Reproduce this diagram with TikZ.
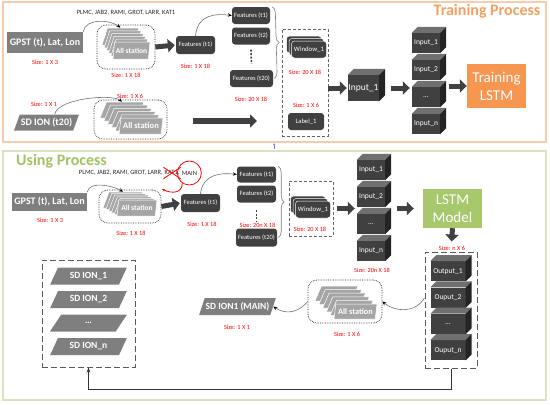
\documentclass[tikz,border=0pt]{standalone}
\usepackage{fontspec}
\setmainfont{Carlito}
\usetikzlibrary{arrows.meta,shapes.geometric,decorations.pathreplacing}
\definecolor{graybox}{RGB}{127,127,127}
\definecolor{stngray}{RGB}{165,165,165}
\definecolor{boxdark}{RGB}{64,64,64}
\definecolor{cubetopc}{RGB}{112,112,112}
\definecolor{cubesidec}{RGB}{36,36,36}
\definecolor{trainline}{RGB}{248,203,173}
\definecolor{traintext}{RGB}{245,160,95}
\definecolor{trainfill}{RGB}{247,150,80}
\definecolor{useline}{RGB}{215,228,189}
\definecolor{usetext}{RGB}{160,195,100}
\definecolor{usefill}{RGB}{168,200,108}
\tikzset{
  inbox/.style={fill=graybox, text=white, inner sep=0pt, font=\bfseries\fontsize{10}{12}\selectfont},
  sdion/.style={trapezium, trapezium left angle=62, trapezium right angle=118, trapezium stretches=true,
    fill=graybox, text=white, inner sep=1pt, font=\bfseries\fontsize{9.5}{11}\selectfont},
  stn/.style={trapezium, trapezium left angle=78, trapezium right angle=102, trapezium stretches=true,
    fill=stngray, draw=white, line width=0.5pt, inner sep=1pt, text=white, font=\bfseries\fontsize{7.5}{9}\selectfont},
  stnbox/.style={draw=black!85, densely dotted, line width=0.7pt, rounded corners=9pt, inner sep=0pt},
  feat/.style={fill=boxdark, rounded corners=3pt, text=white, inner sep=0pt, minimum width=38pt,
    minimum height=17pt, font=\fontsize{6.5}{8}\selectfont},
  win/.style={feat, draw=white, line width=0.5pt, minimum width=35pt, minimum height=17pt, font=\fontsize{6.8}{8}\selectfont},
  cube/.style={fill=boxdark, text=white, inner sep=0pt, minimum width=28pt, minimum height=20pt, font=\fontsize{7.5}{9}\selectfont},
  sz/.style={text=red, inner sep=0pt, font=\fontsize{6.3}{7}\selectfont},
  stlist/.style={text=black!85, inner sep=0pt, font=\fontsize{6.5}{8}\selectfont},
  bigarrow/.style={draw=boxdark, line width=5pt, -{Triangle[length=7pt,width=13pt]}},
  curvearrow/.style={draw=black!55, line width=0.6pt, -{Stealth[length=4pt,width=3.5pt,color=black]}},
  shortdash/.style={draw=black!60, line width=0.8pt, dash pattern=on 3pt off 2pt, inner sep=0pt},
  longdash/.style={draw=black!65, line width=1pt, dash pattern=on 6pt off 3pt, inner sep=0pt},
  featdots/.style={draw=boxdark, line width=1.6pt, dash pattern=on 2pt off 1.5pt},
  title/.style={inner sep=0pt, font=\bfseries\fontsize{16}{18}\selectfont},
  lstm/.style={text=white, inner sep=0pt, align=center, minimum width=59pt, font=\fontsize{15}{18}\selectfont},
}
\begin{document}
\begin{tikzpicture}[x=1pt,y=-1pt]
  \useasboundingbox (0,0) rectangle (550,405);
  \draw[trainline, line width=1.5pt] (3,2) rectangle (546,142);
  \draw[useline, line width=1.5pt] (3,151) rectangle (546,400);
  \node[title, text=traintext] (ttrain) at (487,11) {Training Process};
  \node[title, text=usetext, anchor=west] (tuse) at (16,161) {Using Process};
  \coordinate (blfrom) at (274,149);
  \coordinate (blto) at (274,143);
  \draw[blue!55, line width=0.6pt, -{Stealth[length=2.5pt]}] (blfrom) -- (blto);

  % training
  \node[inbox, minimum width=76pt, minimum height=21pt] (gpst) at (45,42.5) {GPST (t), Lat, Lon};
  \node[sz] (szgpst) at (45,62) {Size: 1 X 3};
  \node[stlist] (list) at (126,13) {PLMC, JAB2, RAMI, GROT, LARR, KAT1};
  \node[stnbox, minimum width=58pt, minimum height=44pt] (boxa) at (126,47) {};
  \foreach \k in {5,4,...,1}
    \node[stn, minimum width=37pt, minimum height=17pt] (sa\k) at (131.5-2.2*\k,50.5-2.8*\k) {};
  \node[stn, minimum width=37pt, minimum height=17pt] (sa) at (131.5,50.5) {All station};
  \node[sz] (szsa) at (126,75) {Size: 1 X 18};
  \draw[curvearrow] (gpst.north east) .. controls +(2,-14) and +(-10,-8) .. (sa5.north);
  \node[feat, minimum width=39pt, minimum height=18pt] (fa) at (195.5,45) {Features (t1)};
  \draw[bigarrow, shorten >=1pt] (boxa.east) -- (fa.west);
  \node[sz] (szfa) at (195.5,66) {Size: 1 X 18};
  \node[feat] (fb1) at (251,15.5) {Features (t1)};
  \node[feat] (fb2) at (251,36) {Features (t2)};
  \node[feat, minimum width=43pt] (fb20) at (251.5,78.5) {Features (t20)};
  \draw[featdots] ([yshift=-5pt]fb2.south) -- ([yshift=6pt]fb20.north);
  \node[sz] (szfb) at (251,99) {Size: 20 X 18};
  \draw[curvearrow] (fa.north) .. controls +(2,-22) and +(-15,-2) .. (fb1.west);
  \draw[black!50, line width=0.6pt, decorate, decoration={brace, amplitude=6pt}]
    ([xshift=2pt]fb1.north east) -- ([xshift=1pt]fb20.east);
  \node[shortdash, minimum width=46pt, minimum height=107pt] (wboxa) at (305,82.5) {};
  \foreach \k in {2,1}
    \node[win] (wa\k) at (309-2.5*\k,49.5-2.5*\k) {};
  \node[win] (wa) at (309,49.5) {Window\_1};
  \node[sz] (szwa) at (305,72) {Size: 20 X 18};
  \node[sz] (szlab) at (306,105) {Size: 1 X 6};
  \node[feat, minimum width=36pt, font=\fontsize{6.6}{8}\selectfont] (lab) at (306,121.5) {Label\_1};
  \node[cube, minimum width=31pt, minimum height=26pt, font=\fontsize{9.5}{11}\selectfont] (tin) at (363.5,88) {Input\_1};
  \draw[bigarrow, shorten >=1pt] (wboxa.east |- tin.west) -- (tin.west);
  \foreach \t [count=\i] in {Input\_1,Input\_2,\ldots,Input\_n}
    \node[cube] (ti\i) at (426,16+27*\i) {\t};
  \draw[bigarrow, shorten >=2pt] ([xshift=12pt]tin.east) -- (ti1.west |- tin.east);
  \node[lstm, fill=trainfill, minimum height=44pt] (tlstm) at (496.5,86) {Training\\LSTM};
  \draw[bigarrow] ([xshift=9pt]ti2.east |- tlstm.west) -- (tlstm.west);
  \node[sdion, minimum width=63pt, minimum height=16pt, font=\bfseries\fontsize{10}{11}\selectfont] (sdt) at (46.5,122.5) {SD ION (t20)};
  \node[sz] (szsdt) at (44,104.5) {Size: 1 X 1};
  \node[stnbox, minimum width=73pt, minimum height=39pt] (boxb) at (130.5,119.5) {};
  \foreach \k in {5,4,...,1}
    \node[stn, minimum width=44pt, minimum height=16pt] (sb\k) at (141-3.8*\k,126-3.2*\k) {};
  \node[stn, minimum width=44pt, minimum height=16pt, font=\bfseries\fontsize{8.5}{9}\selectfont] (sb) at (141,126) {All station};
  \node[sz] (szsb) at (130,96) {Size: 1 X 6};
  \draw[curvearrow] (sdt.north east) .. controls +(3,-16) and +(-10,-8) .. (sb5.north);
  \coordinate (ga) at (193,121);
  \coordinate (gb) at (257,121);
  \draw[bigarrow, line width=6pt] (ga) -- (gb);

  % using
  \node[stlist, anchor=east] (lst2) at (163,173) {PLMC, JAB2, RAMI, GROT, LARR,};
  \node[stlist, anchor=west] (kat) at ([xshift=1.5pt]lst2.east) {KAT1,};
  \node[stlist, anchor=west] (mn) at ([xshift=2pt]kat.east) {MAIN};
  \node[draw=red, circle, line width=0.8pt, minimum size=24pt] (ring) at (mn) {};
  \draw[red, line width=0.8pt] ([xshift=-1pt,yshift=3pt]kat.north west) -- ([xshift=1pt,yshift=-3pt]kat.south east)
    ([xshift=-1pt,yshift=-3pt]kat.south west) -- ([xshift=1pt,yshift=3pt]kat.north east);
  \coordinate (rtip) at (162,189);
  \draw[red, line width=0.8pt, -{Stealth[length=3pt]}] (ring.235) .. controls +(0,10) and +(10,5) .. (rtip);
  \node[inbox, minimum width=75pt, minimum height=18pt] (gpst2) at (49.5,201.5) {GPST (t), Lat, Lon};
  \node[sz] (szgpst2) at (50,220) {Size: 1 X 3};
  \node[stnbox, minimum width=62pt, minimum height=33pt] (boxc) at (130,206.5) {};
  \foreach \k in {5,4,...,1}
    \node[stn, minimum width=40pt, minimum height=16pt] (sc\k) at (137-2.8*\k,208-1.6*\k) {};
  \node[stn, minimum width=40pt, minimum height=16pt] (sc) at (137,208) {All station};
  \node[sz] (szsc) at (131,233) {Size: 1 X 18};
  \draw[curvearrow] (gpst2.north east) .. controls +(2,-12) and +(-10,-6) .. (sc5.north);
  \node[feat, minimum width=39pt, minimum height=18pt] (fc) at (200.5,203) {Features (t1)};
  \draw[bigarrow, shorten >=1pt] (boxc.east) -- (fc.west);
  \node[sz] (szfc) at (202,224) {Size: 1 X 18};
  \node[feat, minimum width=39pt, minimum height=16pt] (fd1) at (256.5,174.5) {Features (t1)};
  \node[feat, minimum width=39pt] (fd2) at (256.5,194) {Features (t2)};
  \node[feat, minimum width=41pt, minimum height=18pt] (fd20) at (256.5,237.5) {Features (t20)};
  \draw[featdots] ([yshift=-7.5pt]fd2.south) -- ([yshift=7pt]fd20.north);
  \node[sz] (szfd) at (257.5,225) {Size: 20n X 18};
  \draw[curvearrow] (fc.north) .. controls +(2,-20) and +(-15,-2) .. (fd1.west);
  \draw[black!50, line width=0.6pt, decorate, decoration={brace, amplitude=6pt}]
    ([xshift=2pt]fd1.north east) -- ([xshift=1pt]fd20.east);
  \node[shortdash, minimum width=44pt, minimum height=55pt] (wboxu) at (311,208.5) {};
  \foreach \k in {2,1}
    \node[win] (wb\k) at (313-2.5*\k,209.5-2.5*\k) {};
  \node[win] (wb) at (313,209.5) {Window\_1};
  \node[sz] (szwb) at (310,229) {Size: 20 X 18};
  \foreach \t [count=\i] in {Input\_1,Input\_2,\ldots,Input\_n}
    \node[cube] (ui\i) at (371,143+27*\i) {\t};
  \draw[bigarrow, shorten <=4pt, shorten >=2pt] (wboxu.east) -- (ui1.west |- wboxu.east);
  \node[sz] (szui) at (372,270) {Size: 20n X 18};
  \node[lstm, fill=usefill, minimum height=39pt] (ulstm) at (452.5,208.5) {LSTM\\Model};
  \draw[bigarrow, shorten >=9pt] ([xshift=12pt]ui2.east |- ulstm.west) -- (ulstm.west);
  \node[longdash, minimum width=52pt, minimum height=116pt] (uobox) at (451,310) {};
  \draw[bigarrow, shorten >=10pt] (ulstm.south) -- (uobox.north);
  \node[sz] (szuo) at (452,248) {Size: n X 6};
  \foreach \t [count=\i] in {Output\_1,Ouput\_2,\ldots,Ouput\_n}
    \node[cube, minimum width=35pt] (uo\i) at (448,245+26.3*\i) {\t};
  \foreach \c in {tin,ti1,ti2,ti3,ti4,ui1,ui2,ui3,ui4,uo1,uo2,uo3,uo4} {
    \fill[cubetopc] (\c.north west) -- ([shift={(6,-6)}]\c.north west) -- ([shift={(6,-6)}]\c.north east) -- (\c.north east) -- cycle;
    \fill[cubesidec] (\c.north east) -- ([shift={(6,-6)}]\c.north east) -- ([shift={(6,-6)}]\c.south east) -- (\c.south east) -- cycle;
  }
  \node[longdash, minimum width=93pt, minimum height=107pt] (sdbox) at (88.5,313.5) {};
  \foreach \t [count=\i] in {SD ION\_1,SD ION\_2,\ldots,SD ION\_n}
    \node[sdion, minimum width=77pt, minimum height=17pt] (ion\i) at (88.5,252.5+23.5*\i) {\t};
  \node[sdion, minimum width=75pt, minimum height=17pt] (sdm) at (237.5,306.5) {SD ION1 (MAIN)};
  \node[sz] (szsdm) at (237,327) {Size: 1 X 1};
  \node[stnbox, minimum width=74pt, minimum height=43pt] (boxd) at (345,301.5) {};
  \foreach \k in {5,4,...,1}
    \node[stn, minimum width=43pt, minimum height=15pt] (se\k) at (355.5-3.8*\k,311.5-3.6*\k) {};
  \node[stn, minimum width=43pt, minimum height=15pt, font=\bfseries\fontsize{8.3}{9}\selectfont] (se) at (355.5,311.5) {All station};
  \node[sz] (szse) at (347,334) {Size: 1 X 6};
  \draw[curvearrow] ([yshift=12pt]uobox.west) .. controls +(-10,16) and +(12,10) .. (boxd.east);
  \draw[curvearrow] (boxd.west) .. controls +(-10,12) and +(12,8) .. (sdm.east);
  \draw[black!80, line width=0.9pt, -{Stealth[length=5pt]}] (uobox.south) -- ++(0,21) -| (sdbox.south);
\end{tikzpicture}
\end{document}
